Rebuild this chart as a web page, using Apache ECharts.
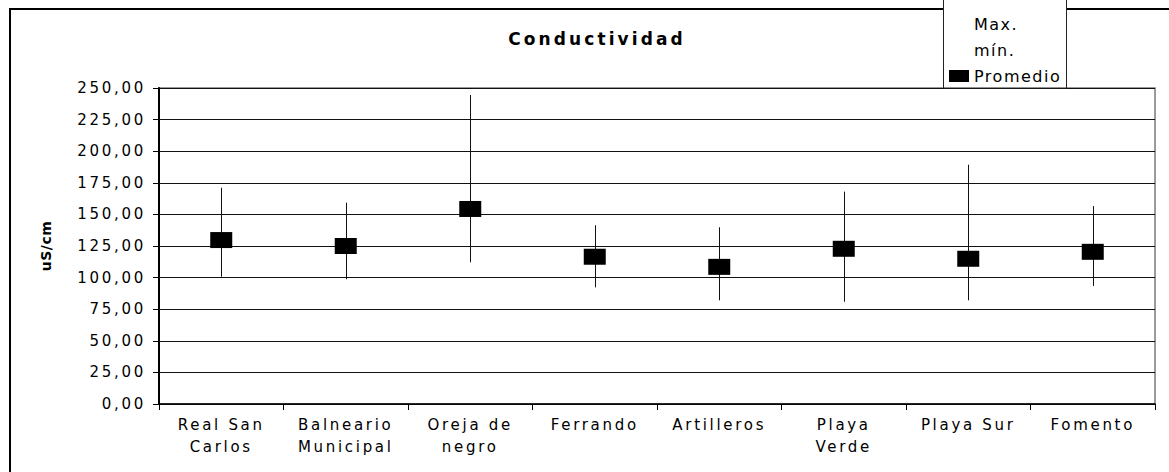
<!DOCTYPE html>
<html>
<head>
<meta charset="utf-8">
<script src="https://cdn.jsdelivr.net/npm/echarts@6/dist/echarts.min.js"></script>
<style>
  html, body { margin: 0; padding: 0; background: #fff; }
  #chart { width: 1169px; height: 472px; }
  #chart svg text[style*="15px"] { letter-spacing: 2.7px; }
  #chart svg text[style*="16px"] { letter-spacing: 1.5px; }
  #chart svg text[style*="17px"] { letter-spacing: 3.1px; }
  #chart svg text[style*="14px"] { letter-spacing: 0.5px; }
</style>
</head>
<body>
<div id="chart"></div>
<script>
const categories = ['Real San\nCarlos', 'Balneario\nMunicipal', 'Oreja de\nnegro', 'Ferrando', 'Artilleros', 'Playa\nVerde', 'Playa Sur', 'Fomento'];
const maxValues = [171.1, 159.3, 244.5, 141.4, 139.8, 168.0, 189.3, 156.6];
const minValues = [100.7, 98.7, 112.1, 92.3, 82.0, 80.9, 82.0, 93.4];
const avgValues = [129.7, 125.0, 154.3, 116.5, 108.5, 122.8, 114.9, 120.4];
const yTicks = { min: 0, max: 250, interval: 25 };
const titleText = 'Conductividad';
const yName = 'uS/cm';
const seriesNames = ['Max.', 'mín.', 'Promedio'];

const FONT = '"DejaVu Sans", sans-serif';

const chart = echarts.init(document.getElementById('chart'), null, { renderer: 'svg' });

function halfBar(values) {
  return values.map((v, i) => [i, v, avgValues[i]]);
}

function renderHalf(params, api) {
  const p1 = api.coord([api.value(0), api.value(1)]);
  const p2 = api.coord([api.value(0), api.value(2)]);
  const x = Math.round(p1[0]) + 0.5;
  return {
    type: 'line',
    shape: { x1: x, y1: p1[1], x2: x, y2: p2[1] },
    style: { stroke: '#111', lineWidth: 1 }
  };
}

chart.setOption({
  backgroundColor: '#fff',
  animation: false,
  title: {
    text: titleText,
    left: 592,
    top: 25,
    textAlign: 'center',
    textStyle: { fontFamily: FONT, fontSize: 17, fontWeight: 'bold', color: '#000' }
  },
  graphic: [
    {
      type: 'rect', z: 1,
      shape: { x: 10, y: 9, width: 1300, height: 600 },
      style: { fill: 'none', stroke: '#000', lineWidth: 2 }
    },
    {
      type: 'rect', z: 2,
      shape: { x: 943.5, y: -3, width: 123, height: 91 },
      style: { fill: '#fff', stroke: '#222', lineWidth: 1 }
    }
  ],
  legend: {
    z: 10,
    orient: 'vertical',
    left: 949,
    top: 16,
    itemWidth: 20,
    itemHeight: 12,
    itemGap: 10,
    padding: 0,
    selectedMode: false,
    textStyle: { fontFamily: FONT, fontSize: 16, color: '#000' },
    data: [
      { name: seriesNames[0], icon: 'rect', itemStyle: { color: 'rgba(0,0,0,0)', borderWidth: 0 } },
      { name: seriesNames[1], icon: 'rect', itemStyle: { color: 'rgba(0,0,0,0)', borderWidth: 0 } },
      { name: seriesNames[2], icon: 'rect', itemStyle: { color: '#000' } }
    ]
  },
  grid: {
    left: 159, right: 14, top: 88, bottom: 68,
    show: true, borderColor: '#7a7a7a', borderWidth: 1.5
  },
  xAxis: {
    type: 'category',
    data: categories,
    boundaryGap: true,
    axisLine: { lineStyle: { color: '#000', width: 1.5 } },
    axisTick: { show: true, length: 6, lineStyle: { color: '#000', width: 1 } },
    axisLabel: {
      margin: 10, interval: 0, color: '#000',
      fontFamily: FONT, fontSize: 15, lineHeight: 22
    },
    splitLine: { show: false }
  },
  yAxis: {
    type: 'value',
    min: yTicks.min, max: yTicks.max, interval: yTicks.interval,
    name: yName,
    nameLocation: 'middle',
    nameRotate: 90,
    nameGap: 106,
    nameTextStyle: { fontFamily: FONT, fontSize: 14, fontWeight: 'bold', color: '#000' },
    axisLine: { show: true, lineStyle: { color: '#000', width: 2 } },
    axisTick: { show: true, length: 6, lineStyle: { color: '#000', width: 1 } },
    axisLabel: {
      margin: 13, color: '#000', fontFamily: FONT, fontSize: 15,
      formatter: v => v.toFixed(2).replace('.', ',')
    },
    splitLine: { show: true, lineStyle: { color: '#111', width: 1 } }
  },
  series: [
    {
      name: seriesNames[0], type: 'custom',
      renderItem: renderHalf,
      data: halfBar(maxValues),
      encode: { x: 0, y: [1, 2] }, z: 3
    },
    {
      name: seriesNames[1], type: 'custom',
      renderItem: renderHalf,
      data: halfBar(minValues),
      encode: { x: 0, y: [1, 2] }, z: 3
    },
    {
      name: seriesNames[2], type: 'scatter',
      symbol: 'rect', symbolSize: [22, 16],
      itemStyle: { color: '#000', opacity: 1 },
      data: avgValues, z: 4
    }
  ]
});
</script>
</body>
</html>
